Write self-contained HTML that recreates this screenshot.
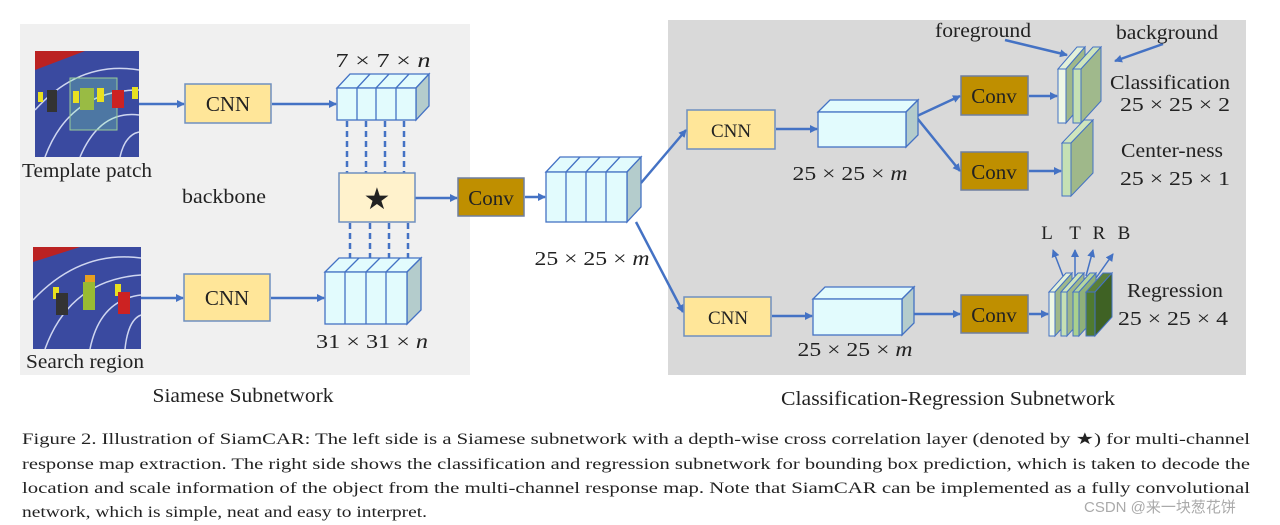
<!DOCTYPE html>
<html><head><meta charset="utf-8"><style>
html,body{margin:0;padding:0;background:#fff;}
svg{display:block;}
text{font-family:"Liberation Serif",serif;fill:#222;}
</style></head><body>
<svg width="1280" height="525" viewBox="0 0 1280 525" xmlns="http://www.w3.org/2000/svg">
<defs>
<marker id="ar" markerWidth="8" markerHeight="8" refX="7" refY="4" orient="auto" markerUnits="userSpaceOnUse">
<path d="M0,0 L8,4 L0,8 z" fill="#4472c4"/></marker>
</defs>
<rect width="1280" height="525" fill="#fff"/>
<rect x="20" y="24" width="450" height="351" fill="#f0f0f0"/>
<rect x="668" y="20" width="578" height="355" fill="#d9d9d9"/>

<rect x="35" y="51" width="104" height="106" fill="#3a4aa0"/>
<polygon points="35,51 85,51 35,70" fill="#b22"/>
<path d="M35,110 Q80,60 139,70 M45,157 Q70,90 139,90 M80,157 Q100,110 139,115 M120,157 Q125,135 139,132" stroke="#cfd6f0" stroke-width="1.5" fill="none"/>
<rect x="70" y="78" width="47" height="52" fill="#8fa" fill-opacity="0.25" stroke="#9c9" stroke-width="1"/>
<rect x="38" y="92" width="5" height="10" fill="#e8e020"/><rect x="47" y="90" width="10" height="22" fill="#333"/>
<rect x="73" y="91" width="6" height="12" fill="#e8e020"/><rect x="80" y="88" width="14" height="22" fill="#9b4"/>
<rect x="97" y="88" width="7" height="14" fill="#e8e020"/><rect x="112" y="90" width="12" height="18" fill="#c22"/>
<rect x="132" y="87" width="6" height="12" fill="#e8e020"/>
<rect x="33" y="247" width="108" height="102" fill="#3a4aa0"/>
<polygon points="33,247 80,247 33,262" fill="#b22"/>
<path d="M33,300 Q80,250 141,258 M45,349 Q70,280 141,275 M90,349 Q100,300 141,295 M125,349 Q128,320 141,315" stroke="#cfd6f0" stroke-width="1.5" fill="none"/>
<rect x="53" y="287" width="6" height="12" fill="#e8e020"/><rect x="56" y="293" width="12" height="22" fill="#333"/>
<rect x="85" y="275" width="10" height="8" fill="#e8a020"/><rect x="83" y="282" width="12" height="28" fill="#9b3"/>
<rect x="115" y="284" width="6" height="12" fill="#e8e020"/><rect x="118" y="292" width="12" height="22" fill="#c22"/>

<g font-size="20" text-anchor="middle">
<text x="87" y="177" textLength="130" lengthAdjust="spacingAndGlyphs">Template patch</text>
<text x="85" y="368" textLength="118" lengthAdjust="spacingAndGlyphs">Search region</text>
<text x="224" y="203" textLength="84" lengthAdjust="spacingAndGlyphs">backbone</text>
<text x="243" y="402" textLength="181" lengthAdjust="spacingAndGlyphs">Siamese Subnetwork</text>
</g>

<g stroke="#4472c4" stroke-width="2.5" fill="none" marker-end="url(#ar)">
<line x1="139" y1="104" x2="184" y2="104"/>
<line x1="141" y1="298" x2="183" y2="298"/>
<line x1="272" y1="104" x2="336" y2="104"/>
<line x1="271" y1="298" x2="324" y2="298"/>
<line x1="415" y1="198" x2="457" y2="198"/>
<line x1="525" y1="197" x2="545" y2="197"/>
<line x1="641" y1="183" x2="686" y2="130"/>
<line x1="636" y1="222" x2="683" y2="312"/>
<line x1="776" y1="129" x2="817" y2="129"/>
<line x1="772" y1="316" x2="812" y2="316"/>
<line x1="917" y1="116" x2="960" y2="96"/>
<line x1="917" y1="118" x2="960" y2="171"/>
<line x1="1029" y1="96" x2="1057" y2="96"/>
<line x1="1029" y1="171" x2="1061" y2="171"/>
<line x1="914" y1="314" x2="960" y2="314"/>
<line x1="1029" y1="314" x2="1048" y2="314"/>
<line x1="1005" y1="40" x2="1067" y2="55"/>
<line x1="1163" y1="44" x2="1115" y2="61"/>
</g>
<g stroke="#4472c4" stroke-width="1.5" fill="none" marker-end="url(#ar)">
<line x1="1063" y1="276" x2="1053" y2="250"/>
<line x1="1075" y1="276" x2="1075" y2="250"/>
<line x1="1086" y1="276" x2="1093" y2="250"/>
<line x1="1096" y1="278" x2="1113" y2="254"/>
</g>

<g stroke="#4472c4" stroke-width="2.5" stroke-dasharray="6,4">
<line x1="347" y1="121" x2="347" y2="173"/><line x1="366" y1="121" x2="366" y2="173"/>
<line x1="385" y1="121" x2="385" y2="173"/><line x1="404" y1="121" x2="404" y2="173"/>
<line x1="350" y1="223" x2="350" y2="258"/><line x1="370" y1="223" x2="370" y2="258"/>
<line x1="389" y1="223" x2="389" y2="258"/><line x1="408" y1="223" x2="408" y2="258"/>
</g>

<g fill="#ffe699" stroke="#6f8fc0" stroke-width="1.5">
<rect x="185" y="84" width="86" height="39"/>
<rect x="184" y="274" width="86" height="47"/>
<rect x="687" y="110" width="88" height="39"/>
<rect x="684" y="297" width="87" height="39"/>
</g>
<g font-size="21" text-anchor="middle">
<text x="228" y="111">CNN</text><text x="227" y="305">CNN</text>
<text x="731" y="137" font-family="Liberation Sans,sans-serif" font-size="19">CNN</text>
<text x="728" y="324" font-family="Liberation Sans,sans-serif" font-size="19">CNN</text>
</g>
<g fill="#bf8f00" stroke="#6f7f9f" stroke-width="1.5">
<rect x="458" y="178" width="66" height="38"/>
<rect x="961" y="76" width="67" height="39"/>
<rect x="961" y="152" width="67" height="38"/>
<rect x="961" y="295" width="67" height="38"/>
</g>
<g font-size="21" text-anchor="middle">
<text x="491" y="205">Conv</text><text x="994" y="103">Conv</text>
<text x="994" y="179">Conv</text><text x="994" y="322">Conv</text>
</g>
<rect x="339" y="173" width="76" height="49" fill="#fff2cc" stroke="#6f8fc0" stroke-width="1.5"/>
<text x="377" y="209" font-size="30" text-anchor="middle" font-family="DejaVu Sans,sans-serif" fill="#000">★</text>

<g stroke="#4472c4" stroke-width="1.3">
<polygon points="337,88 350,74 429,74 416,88" fill="#e2fbfd"/>
<polygon points="416,88 429,74 429,106 416,120" fill="#b4cccc"/>
<rect x="337" y="88" width="79" height="32" fill="#e2fbfd"/>
<path d="M357,88V120M376,88V120M396,88V120M357,88l13,-14M376,88l13,-14M396,88l13,-14" fill="none"/>
<polygon points="325,272 339,258 421,258 407,272" fill="#e2fbfd"/>
<polygon points="407,272 421,258 421,310 407,324" fill="#b4cccc"/>
<rect x="325" y="272" width="82" height="52" fill="#e2fbfd"/>
<path d="M345,272V324M366,272V324M386,272V324M345,272l14,-14M366,272l14,-14M386,272l14,-14" fill="none"/>
<polygon points="546,172 560,157 641,157 627,172" fill="#e2fbfd"/>
<polygon points="627,172 641,157 641,207 627,222" fill="#b4cccc"/>
<rect x="546" y="172" width="81" height="50" fill="#e2fbfd"/>
<path d="M566,172V222M586,172V222M606,172V222M566,172l14,-15M586,172l14,-15M606,172l14,-15" fill="none"/>
<polygon points="818,112 830,100 918,100 906,112" fill="#e2fbfd"/>
<polygon points="906,112 918,100 918,135 906,147" fill="#b4cccc"/>
<rect x="818" y="112" width="88" height="35" fill="#e2fbfd"/>
<polygon points="813,299 825,287 914,287 902,299" fill="#e2fbfd"/>
<polygon points="902,299 914,287 914,323 902,335" fill="#b4cccc"/>
<rect x="813" y="299" width="89" height="36" fill="#e2fbfd"/>
</g>
<g stroke="#4472c4" stroke-width="1">
<polygon points="1058,69 1077,47 1085,47 1066,69" fill="#e2f0d9"/>
<polygon points="1066,69 1085,47 1085,101 1066,123" fill="#9fb88a"/>
<rect x="1058" y="69" width="8" height="54" fill="#eef7e6"/>
<polygon points="1073,69 1093,47 1101,47 1081,69" fill="#cfe5bd"/>
<polygon points="1081,69 1101,47 1101,101 1081,123" fill="#a0b98c"/>
<rect x="1073" y="69" width="8" height="54" fill="#c5e0b4"/>
<polygon points="1062,143 1084,120 1093,120 1071,143" fill="#cfe5bd"/>
<polygon points="1071,143 1093,120 1093,173 1071,196" fill="#9fb88a"/>
<rect x="1062" y="143" width="9" height="53" fill="#c5e0b4"/>
<polygon points="1049,292 1066,273 1072,273 1055,292" fill="#e2f0d9"/>
<polygon points="1055,292 1072,273 1072,317 1055,336" fill="#9fb88a"/>
<rect x="1049" y="292" width="6" height="44" fill="#eef7e6"/>
<polygon points="1061,292 1078,273 1084,273 1067,292" fill="#cfe5bd"/>
<polygon points="1067,292 1084,273 1084,317 1067,336" fill="#9fb88a"/>
<rect x="1061" y="292" width="6" height="44" fill="#c5e0b4"/>
<polygon points="1073,292 1090,273 1096,273 1079,292" fill="#b5d6a0"/>
<polygon points="1079,292 1096,273 1096,317 1079,336" fill="#8fb07a"/>
<rect x="1073" y="292" width="6" height="44" fill="#a9d08e"/>
<polygon points="1086,292 1103,273 1112,273 1095,292" fill="#5a7f3a"/>
<polygon points="1095,292 1112,273 1112,317 1095,336" fill="#3f6224"/>
<rect x="1086" y="292" width="9" height="44" fill="#4f7a30"/>
</g>

<g font-size="20" text-anchor="middle">
<text x="383" y="67" textLength="95" lengthAdjust="spacingAndGlyphs">7 × 7 × <tspan font-style="italic">n</tspan></text>
<text x="372" y="348" textLength="112" lengthAdjust="spacingAndGlyphs">31 × 31 × <tspan font-style="italic">n</tspan></text>
<text x="592" y="265" textLength="115" lengthAdjust="spacingAndGlyphs">25 × 25 × <tspan font-style="italic">m</tspan></text>
<text x="850" y="180" textLength="115" lengthAdjust="spacingAndGlyphs">25 × 25 × <tspan font-style="italic">m</tspan></text>
<text x="855" y="356" textLength="115" lengthAdjust="spacingAndGlyphs">25 × 25 × <tspan font-style="italic">m</tspan></text>
<text x="983" y="37" textLength="96" lengthAdjust="spacingAndGlyphs">foreground</text>
<text x="1167" y="39" textLength="102" lengthAdjust="spacingAndGlyphs">background</text>
<text x="1170" y="89" textLength="120" lengthAdjust="spacingAndGlyphs">Classification</text>
<text x="1175" y="111" textLength="110" lengthAdjust="spacingAndGlyphs">25 × 25 × 2</text>
<text x="1172" y="157" textLength="102" lengthAdjust="spacingAndGlyphs">Center-ness</text>
<text x="1175" y="185" textLength="110" lengthAdjust="spacingAndGlyphs">25 × 25 × 1</text>
<text x="1175" y="297" textLength="96" lengthAdjust="spacingAndGlyphs">Regression</text>
<text x="1173" y="325" textLength="110" lengthAdjust="spacingAndGlyphs">25 × 25 × 4</text>
<text x="948" y="405" textLength="334" lengthAdjust="spacingAndGlyphs">Classification-Regression Subnetwork</text>
</g>
<g font-size="19" text-anchor="middle">
<text x="1047" y="239">L</text><text x="1075" y="239">T</text><text x="1099" y="239">R</text><text x="1124" y="239">B</text>
</g>

<g font-size="16">
<text x="22" y="444" textLength="1228" lengthAdjust="spacingAndGlyphs">Figure 2. Illustration of SiamCAR: The left side is a Siamese subnetwork with a depth-wise cross correlation layer (denoted by ★) for multi-channel</text>
<text x="22" y="469" textLength="1228" lengthAdjust="spacingAndGlyphs">response map extraction.  The right side shows the classification and regression subnetwork for bounding box prediction, which is taken to decode the</text>
<text x="22" y="493" textLength="1228" lengthAdjust="spacingAndGlyphs">location and scale information of the object from the multi-channel response map.  Note that SiamCAR can be implemented as a fully convolutional</text>
<text x="22" y="517" textLength="405" lengthAdjust="spacingAndGlyphs">network, which is simple, neat and easy to interpret.</text>
</g>
<text x="1084" y="512" font-size="15" style="font-family:'Liberation Sans','Noto Sans CJK SC',sans-serif;fill:#aaa">CSDN @来一块葱花饼</text>
</svg>
</body></html>
